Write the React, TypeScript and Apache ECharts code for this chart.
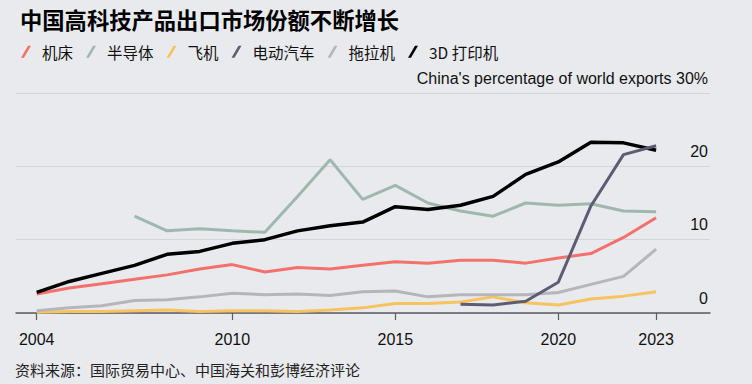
import React, { useEffect, useRef } from "react";
import * as echarts from "echarts";

const years = [2004, 2005, 2006, 2007, 2008, 2009, 2010, 2011, 2012, 2013, 2014, 2015, 2016, 2017, 2018, 2019, 2020, 2021, 2022, 2023];
const machineTools = [2.6, 3.4, 4.0, 4.6, 5.2, 6.0, 6.6, 5.6, 6.2, 6.0, 6.5, 7.0, 6.8, 7.2, 7.2, 6.8, 7.5, 8.1, 10.3, 13.0];
const semiconductors = [null, null, null, 13.2, 11.2, 11.5, 11.2, 11.0, 15.9, 20.9, 15.5, 17.4, 15.0, 13.9, 13.2, 15.0, 14.7, 14.9, 13.9, 13.8];
const aircraft = [0.1, 0.2, 0.2, 0.3, 0.4, 0.2, 0.3, 0.3, 0.2, 0.4, 0.7, 1.3, 1.3, 1.5, 2.2, 1.4, 1.1, 1.9, 2.3, 2.9];
const electricVehicles = [null, null, null, null, null, null, null, null, null, null, null, null, null, 1.2, 1.1, 1.6, 4.2, 14.6, 21.6, 22.8];
const tractors = [0.3, 0.7, 1.0, 1.7, 1.8, 2.2, 2.7, 2.5, 2.6, 2.4, 2.9, 3.0, 2.2, 2.5, 2.5, 2.5, 2.8, 3.9, 5.0, 8.7];
const printers3d = [2.8, 4.3, 5.4, 6.5, 8.0, 8.4, 9.5, 10.0, 11.2, 11.9, 12.4, 14.5, 14.1, 14.7, 15.9, 18.9, 20.6, 23.3, 23.2, 22.2];

const seriesNames = ["机床", "半导体", "飞机", "电动汽车", "拖拉机", "3D 打印机"];
const seriesColors = ["#f4716b", "#9fb8ad", "#f7c35f", "#5e5c72", "#b6b6ba", "#000000"];
const seriesValues = [machineTools, semiconductors, aircraft, electricVehicles, tractors, printers3d];

const xTickYears = [2004, 2010, 2015, 2020, 2023];
const yTicks = [0, 10, 20, 30];

const FONT = "'Liberation Sans', 'Noto Sans CJK SC', sans-serif";
const CJK = "'Noto Sans CJK SC', sans-serif";

export default function App() {
  const ref = useRef<HTMLDivElement>(null);
  useEffect(() => {
    document.body.style.margin = "0";
    const chart = echarts.init(ref.current!, null, { renderer: "svg" });
    const slash = "path://M0,12 L3,12 L10,0 L7,0 Z";
    chart.setOption({
      animation: false,
      backgroundColor: "#e9eaee",
      title: {
        text: "中国高科技产品出口市场份额不断增长",
        left: 15,
        top: 3,
        textStyle: { fontFamily: CJK, fontWeight: "bold", fontSize: 22.3, color: "#000" },
      },
      legend: {
        left: 16,
        top: 39,
        itemWidth: 10,
        itemHeight: 12,
        itemGap: 13,
        icon: slash,
        data: seriesNames,
        textStyle: { fontFamily: CJK, fontSize: 15.5, color: "#111", padding: [0, 0, 0, 6] },
      },
      graphic: [
        {
          type: "text",
          left: 15,
          top: 362,
          style: {
            text: "资料来源：国际贸易中心、中国海关和彭博经济评论",
            fontFamily: CJK,
            fontSize: 15,
            fill: "#222",
          },
        },
      ],
      grid: { left: 16, right: 42, top: 93, bottom: 71 },
      xAxis: {
        type: "value",
        min: 2003.365,
        max: 2024.653,
        splitLine: { show: false },
        axisLine: { show: true, lineStyle: { color: "#5a5a64", width: 1.5 } },
        axisTick: { show: true, customValues: xTickYears, length: 7, lineStyle: { color: "#5a5a64", width: 1.2 } },
        axisLabel: {
          customValues: xTickYears,
          formatter: (v: number) => String(v),
          margin: 18,
          fontFamily: FONT,
          fontSize: 16,
          color: "#111",
        },
      },
      yAxis: {
        type: "value",
        position: "right",
        min: 0,
        max: 30,
        interval: 10,
        axisLine: { show: false },
        axisTick: { show: false },
        splitLine: { show: true, lineStyle: { color: "#d3d4da", width: 1 } },
        axisLabel: {
          inside: true,
          margin: 2,
          verticalAlign: "bottom",
          lineHeight: 30,
          fontFamily: FONT,
          fontSize: 16,
          color: "#111",
          formatter: (v: number) =>
            v === yTicks[yTicks.length - 1] ? "China's percentage of world exports 30%" : String(v),
        },
      },
      series: seriesNames.map((name, i) => ({
        name,
        type: "line",
        data: years.map((y, j) => [y, seriesValues[i][j]]),
        symbol: "none",
        connectNulls: false,
        z: name === "电动汽车" ? 5 : 2 + i * 0.1,
        lineStyle: { color: seriesColors[i], width: name === "3D 打印机" ? 3.5 : 3 },
        itemStyle: { color: seriesColors[i] },
      })),
    });
    return () => chart.dispose();
  }, []);
  return <div ref={ref} style={{ position: "absolute", left: 0, top: 0, width: 752, height: 384 }} />;
}
